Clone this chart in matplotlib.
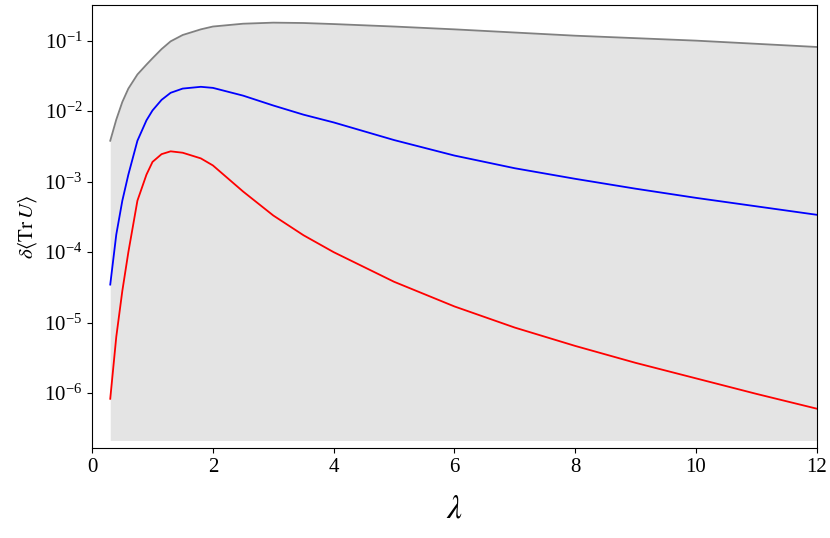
import matplotlib
matplotlib.use("Agg")
import matplotlib.pyplot as plt
import numpy as np

plt.rcParams["font.family"] = "Liberation Serif"
plt.rcParams["mathtext.fontset"] = "stix"

lam = [0.3, 0.4, 0.5, 0.6, 0.75, 0.9, 1.0, 1.15, 1.3, 1.5, 1.8, 2.0, 2.5, 3.0, 3.5, 4.0, 5.0, 6.0, 7.0, 8.0, 9.0, 10.0, 11.0, 12.0]
gray_log = [-2.42, -2.12, -1.87, -1.68, -1.48, -1.34, -1.25, -1.12, -1.01, -0.92, -0.84, -0.8, -0.76, -0.745, -0.75, -0.765, -0.8, -0.84, -0.885, -0.93, -0.965, -1.0, -1.045, -1.09]
blue_log = [-4.46, -3.75, -3.27, -2.9, -2.42, -2.13, -1.99, -1.84, -1.74, -1.68, -1.655, -1.67, -1.78, -1.92, -2.05, -2.16, -2.41, -2.63, -2.81, -2.96, -3.1, -3.23, -3.35, -3.47]
red_log = [-6.08, -5.2, -4.55, -4.0, -3.27, -2.9, -2.72, -2.61, -2.57, -2.59, -2.67, -2.77, -3.14, -3.48, -3.76, -4.0, -4.42, -4.77, -5.07, -5.33, -5.57, -5.79, -6.01, -6.22]
fill_bottom = 10**-6.67

x = np.array(lam)
gray = 10**np.array(gray_log)
blue = 10**np.array(blue_log)
red = 10**np.array(red_log)

fig = plt.figure(figsize=(8.3, 5.38), dpi=100)
ax = fig.add_axes([0.111, 0.167, 0.873, 0.823])
ax.fill_between(x, fill_bottom, gray, color="#e4e4e4", lw=0)
ax.plot(x, gray, color="#808080", lw=1.3)
ax.plot(x, blue, color="blue", lw=1.3)
ax.plot(x, red, color="red", lw=1.3)
ax.set_yscale("log")
ax.set_xlim(0, 12)
ax.set_ylim(10**-6.78, 10**-0.5)
ax.set_xticks([0, 2, 4, 6, 8, 10, 12])
ax.set_yticks([1e-6, 1e-5, 1e-4, 1e-3, 1e-2, 1e-1])
ax.yaxis.set_minor_locator(matplotlib.ticker.NullLocator())
ax.tick_params(labelsize=15, direction="out")
ax.set_xlabel(r"$\lambda$", fontsize=24, labelpad=12)
ax.set_ylabel(r"$\delta\langle\mathrm{Tr}\,U\rangle$", fontsize=15)
fig.savefig("out.png", dpi=100)
